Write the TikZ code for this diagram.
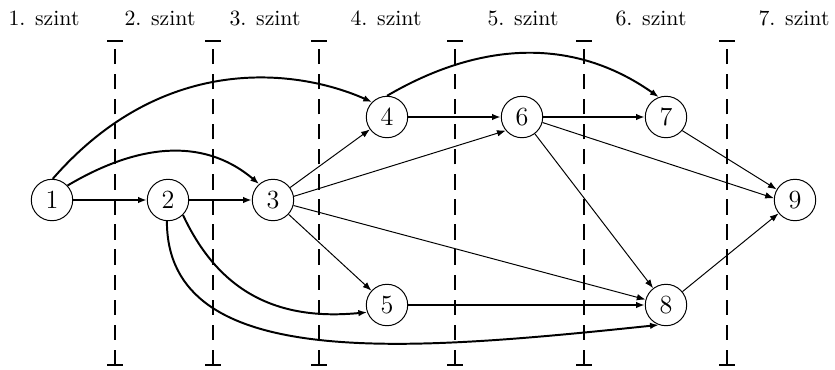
\documentclass[tikz,border=0pt]{standalone}
\usetikzlibrary{arrows.meta}
\begin{document}
\begin{tikzpicture}[x=0.4587pt,y=-0.4587pt,
  vertex/.style={circle,draw,line width=0.45pt,minimum size=19pt,inner sep=0pt,font=\large},
  lvl/.style={font=\normalsize,inner sep=0pt},
  crit/.style={line width=0.9pt,-{Latex[length=4pt,width=3pt]}},
  norm/.style={line width=0.45pt,-{Latex[length=4pt,width=3pt]}},
  sep/.style={line width=1pt,dash pattern=on 7pt off 4.5pt},
  bar/.style={line width=1pt}]
\useasboundingbox (0,0) rectangle (835,369);
% level labels
\node[lvl] (l1) at (44,18) {1. szint};
\node[lvl] (l2) at (160,18) {2. szint};
\node[lvl] (l3) at (265,18) {3. szint};
\node[lvl] (l4) at (386,18) {4. szint};
\node[lvl] (l5) at (523,18) {5. szint};
\node[lvl] (l6) at (651,18) {6. szint};
\node[lvl] (l7) at (794,18) {7. szint};
% separators
\foreach \x in {115,213,319,455,584,727}{
  \draw[bar] (\x-8,41) -- (\x+8,41);
  \draw[bar] (\x-8,365) -- (\x+8,365);
  \draw[sep] (\x,365) -- (\x,48);
}
% nodes
\node[vertex] (n1) at (52,200) {1};
\node[vertex] (n2) at (168,200) {2};
\node[vertex] (n3) at (273,200) {3};
\node[vertex] (n4) at (387,117) {4};
\node[vertex] (n5) at (387,305) {5};
\node[vertex] (n6) at (522,117) {6};
\node[vertex] (n7) at (666,117) {7};
\node[vertex] (n8) at (666,305) {8};
\node[vertex] (n9) at (795,200) {9};
% critical (thick) edges
\draw[crit] (n1) -- (n2);
\draw[crit] (n2) -- (n3);
\draw[crit] (n4) -- (n6);
\draw[crit] (n6) -- (n7);
\draw[crit] (n5) -- (n8);
\draw[crit] (n1.43) .. controls (134,146) and (201,135) .. (n3.131);
\draw[crit] (n1.88) .. controls (165,50) and (300,70) .. (n4.135);
\draw[crit] (n4.90) .. controls (479,42) and (572,36) .. (n7.110);
\draw[crit] (n2.-45) .. controls (219,292) and (277,321) .. (n5.200);
\draw[crit] (n2.-93) .. controls (167,373) and (409,351) .. (n8.250);
% other edges
\draw[norm] (n3) -- (n4);
\draw[norm] (n3.10) -- (n6.220);
\draw[norm] (n3) -- (n5);
\draw[norm] (n3.-15) -- (n8.165);
\draw[norm] (n6.-15) -- (n9.175);
\draw[norm] (n6) -- (n8);
\draw[norm] (n7.-40) -- (n9.150);
\draw[norm] (n8) -- (n9);
\end{tikzpicture}
\end{document}
